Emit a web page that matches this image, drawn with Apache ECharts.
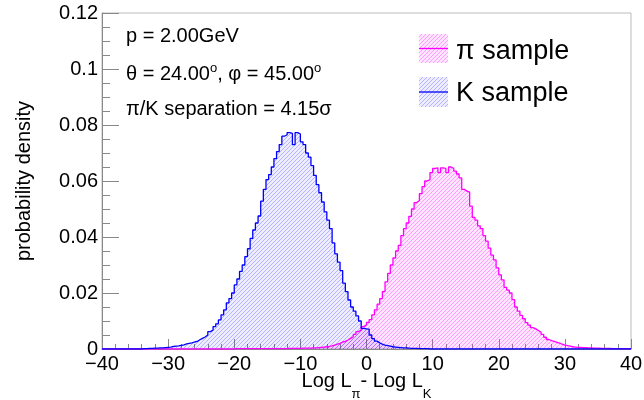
<!DOCTYPE html>
<html><head><meta charset="utf-8">
<script src="https://cdn.jsdelivr.net/npm/echarts@6/dist/echarts.min.js"></script>
<style>html,body{margin:0;padding:0;background:#fff}#c{width:644px;height:400px}</style>
</head><body><div id="c"></div>
<script>
// ---- data ----
const xMin = -40, xMax = 40, binWidth = 0.4;
const seriesNames = ['π sample', 'K sample'];
const infoLines = ['p = 2.00GeV', 'θ = 24.00{s|o}, φ = 45.00{s|o}', 'π/K separation = 4.15σ'];
const xTitle = 'Log L{sub|π}- Log L{sub|K}';
const yTitle = 'probability density';

const piDensity = [
  0,0,0,0,0,0,0,0,0,0,
  0,0,0,0,0,0,0,0,0,0,
  0,0,0,0,0,0,0,0,0,0,
  0,0,0,0,0,0,0,0,0,0,
  0,0,0,0,0,0,0,0,0,0,
  0.0001,0.0001,0.0001,0.0001,0.0001,0.0001,0.0001,0.0001,0.0001,0.0001,
  0.0001,0.0001,0.0001,0.0001,0.0001,0.0001,0.0001,0.0001,0.0001,0.0001,
  0.0002,0.0002,0.0002,0.0002,0.0002,0.0003,0.0003,0.0003,0.0003,0.0004,
  0.0004,0.0005,0.0006,0.0007,0.0008,0.0009,0.0011,0.0014,0.0017,0.0020,
  0.0025,0.0027,0.0032,0.0038,0.0044,0.0052,0.0062,0.0068,0.0080,0.0086,
  0.0095,0.0105,0.0122,0.0140,0.0160,0.0180,0.0205,0.0240,0.0270,0.0300,
  0.0325,0.0350,0.0370,0.0405,0.0430,0.0450,0.0474,0.0500,0.0523,0.0530,
  0.0555,0.0580,0.0600,0.0605,0.0630,0.0645,0.0647,0.0630,0.0647,0.0645,
  0.0630,0.0650,0.0645,0.0635,0.0625,0.0611,0.0570,0.0564,0.0560,0.0510,
  0.0470,0.0460,0.0440,0.0430,0.0405,0.0385,0.0360,0.0335,0.0318,0.0290,
  0.0265,0.0247,0.0220,0.0210,0.0200,0.0176,0.0150,0.0135,0.0120,0.0108,
  0.0094,0.0085,0.0076,0.0072,0.0066,0.0060,0.0052,0.0042,0.0034,0.0030,
  0.0027,0.0024,0.0021,0.0017,0.0014,0.0012,0.0010,0.0008,0.0007,0.0006,
  0.0006,0.0005,0.0005,0.0004,0.0004,0.0003,0.0003,0.0003,0.0002,0.0002,
  0.0002,0.0002,0.0001,0.0001,0.0001,0.0001,0.0001,0.0001,0.0001,0
];

const kDensity = [
  0,0,0,0,0,0,0,0,0,0,
  0,0,0,0,0,0.0001,0.0001,0.0002,0.0002,0.0003,
  0.0003,0.0004,0.0004,0.0005,0.0006,0.0007,0.0009,0.0010,0.0011,0.0013,
  0.0015,0.0018,0.0020,0.0022,0.0025,0.0027,0.0033,0.0038,0.0043,0.0050,
  0.0062,0.0068,0.0080,0.0090,0.0104,0.0122,0.0140,0.0165,0.0180,0.0200,
  0.0229,0.0250,0.0277,0.0300,0.0330,0.0358,0.0395,0.0425,0.0450,0.0475,
  0.0528,0.0570,0.0605,0.0623,0.0650,0.0680,0.0705,0.0730,0.0760,0.0765,
  0.0773,0.0770,0.0730,0.0773,0.0768,0.0740,0.0730,0.0700,0.0685,0.0655,
  0.0620,0.0587,0.0558,0.0525,0.0490,0.0460,0.0430,0.0379,0.0340,0.0310,
  0.0280,0.0235,0.0205,0.0175,0.0150,0.0135,0.0118,0.0100,0.0074,0.0072,
  0.0071,0.0050,0.0037,0.0028,0.0022,0.0017,0.0014,0.0012,0.0010,0.0008,
  0.0007,0.0006,0.0005,0.0004,0.0004,0.0003,0.0002,0.0002,0.0002,0.0001,
  0.0001,0.0001,0.0001,0,0,0,0,0,0,0,
  0,0,0,0,0,0,0,0,0,0,
  0,0,0,0,0,0,0,0,0,0,
  0,0,0,0,0,0,0,0,0,0,
  0,0,0,0,0,0,0,0,0,0,
  0,0,0,0,0,0,0,0,0,0,
  0,0,0,0,0,0,0,0,0,0,
  0,0,0,0,0,0,0,0,0,0
];

// ---- helpers ----
function stepData(vals) {
  const d = [];
  for (let i = 0; i < vals.length; i++) d.push([+(xMin + i * binWidth).toFixed(4), vals[i]]);
  d.push([xMax, vals[vals.length - 1]]);
  return d;
}
function hatch(r, g, b, bgA, lineA) {
  const c = document.createElement('canvas');
  c.width = 4; c.height = 4;
  const ctx = c.getContext('2d');
  ctx.fillStyle = `rgba(${r},${g},${b},${bgA})`;
  ctx.fillRect(0, 0, 4, 4);
  ctx.fillStyle = `rgba(${r},${g},${b},${lineA})`;
  for (let i = 0; i < 4; i++) ctx.fillRect(i, 3 - i, 1, 1);
  return { image: c, repeat: 'repeat' };
}
const piColor = '#ff00ff', kColor = '#0000ff';
const piFill = hatch(255, 0, 255, 0.10, 0.32);
const kFill = hatch(0, 0, 255, 0.07, 0.24);
const FONT = "'Liberation Sans', Arial, Helvetica, sans-serif";
const fmtX = v => (v < 0 ? '\u2212' + Math.abs(v) : String(v));

const chart = echarts.init(document.getElementById('c'), null, { renderer: 'canvas' });
chart.setOption({
  animation: false,
  backgroundColor: '#fff',
  grid: { left: 102, right: 13, top: 13, bottom: 51, show: true, borderColor: '#bbb', borderWidth: 1,
          containLabel: false, outerBoundsMode: 'none' },
  xAxis: {
    type: 'value', min: xMin, max: xMax, interval: 10,
    axisLine: { show: true, onZero: false, lineStyle: { color: '#888' } },
    axisTick: { inside: true, length: 10, lineStyle: { color: '#888' } },
    minorTick: { show: true, splitNumber: 5, length: 5, lineStyle: { color: '#888' } },
    splitLine: { show: false },
    axisLabel: { formatter: fmtX, fontSize: 20, color: '#000', fontFamily: FONT, margin: 5 },
    name: xTitle, nameLocation: 'middle', nameGap: 12, nameMoveOverlap: false,
    nameTextStyle: {
      fontSize: 20, fontFamily: FONT, color: '#000', lineHeight: 40,
      rich: { sub: { fontSize: 13, fontFamily: FONT, color: '#000', lineHeight: 13, verticalAlign: 'bottom' } }
    }
  },
  yAxis: {
    type: 'value', min: 0, max: 0.12, interval: 0.02,
    axisLine: { show: true, onZero: false, lineStyle: { color: '#888' } },
    axisTick: { inside: true, length: 17, lineStyle: { color: '#888' } },
    minorTick: { show: true, splitNumber: 4, length: 8, lineStyle: { color: '#888' } },
    splitLine: { show: false },
    axisLabel: { fontSize: 20, color: '#000', fontFamily: FONT, margin: 4 },
    name: yTitle, nameLocation: 'middle', nameGap: 68, nameMoveOverlap: false,
    nameTextStyle: { fontSize: 20, fontFamily: FONT, color: '#000' }
  },
  series: [
    {
      name: seriesNames[0], type: 'line', step: 'end', showSymbol: false,
      data: stepData(piDensity),
      lineStyle: { color: piColor, width: 1.3 },
      itemStyle: { color: piColor },
      areaStyle: { color: piFill, opacity: 1 }
    },
    {
      name: seriesNames[1], type: 'line', step: 'end', showSymbol: false,
      data: stepData(kDensity),
      lineStyle: { color: kColor, width: 1.3 },
      itemStyle: { color: kColor },
      areaStyle: { color: kFill, opacity: 1 }
    }
  ],
  graphic: [
    { type: 'text', left: 126, top: 26, style: { text: infoLines[0], font: `20px ${FONT}`, fill: '#000' } },
    { type: 'text', left: 126, top: 62, style: { text: infoLines[1], fill: '#000', fontSize: 20, fontFamily: FONT,
        lineHeight: 24, rich: { s: { fontSize: 13, fontFamily: FONT, lineHeight: 13, verticalAlign: 'top', fill: '#000' } } } },
    { type: 'text', left: 126, top: 99, style: { text: infoLines[2], font: `20px ${FONT}`, fill: '#000' } },
    { type: 'rect', shape: { x: 419, y: 34, width: 29, height: 29 }, style: { fill: piFill } },
    { type: 'line', shape: { x1: 419, y1: 48.5, x2: 448, y2: 48.5 }, style: { stroke: piColor, lineWidth: 1.3 } },
    { type: 'text', left: 456, top: 38, style: { text: seriesNames[0], font: `27px ${FONT}`, fill: '#000' } },
    { type: 'rect', shape: { x: 419, y: 77, width: 29, height: 30 }, style: { fill: kFill } },
    { type: 'line', shape: { x1: 419, y1: 92, x2: 448, y2: 92 }, style: { stroke: kColor, lineWidth: 1.3 } },
    { type: 'text', left: 456, top: 80, style: { text: seriesNames[1], font: `27px ${FONT}`, fill: '#000' } }
  ]
});
</script></body></html>
